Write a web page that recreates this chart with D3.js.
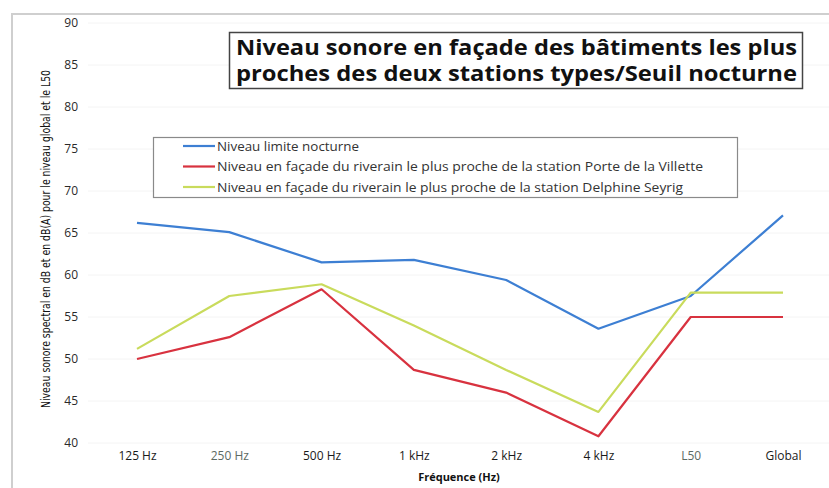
<!DOCTYPE html>
<html>
<head>
<meta charset="utf-8">
<script src="https://cdn.jsdelivr.net/npm/d3@7"></script>
<style>
  html, body { margin: 0; padding: 0; background: #fff; }
  svg { display: block; }
</style>
</head>
<body>
<svg id="chart" width="829" height="488"></svg>
<script>
// Frequency bands plus the L50 and global levels
const categories = ["125 Hz", "250 Hz", "500 Hz", "1 kHz", "2 kHz", "4 kHz", "L50", "Global"];

// Night-time limit level
const limiteNocturne = [66.2, 65.1, 61.5, 61.8, 59.4, 53.6, 57.5, 67.1];
// Facade level of the nearest resident, Porte de la Villette station
const porteVillette = [50.0, 52.6, 58.3, 48.7, 46.0, 40.8, 55.0, 55.0];
// Facade level of the nearest resident, Delphine Seyrig station
const delphineSeyrig = [51.2, 57.5, 58.9, 54.0, 48.7, 43.7, 57.9, 57.9];

const yTicks = [40, 45, 50, 55, 60, 65, 70, 75, 80, 85, 90];

const seriesNames = [
  "Niveau limite nocturne",
  "Niveau en façade du riverain le plus proche de la station Porte de la Villette",
  "Niveau en façade du riverain le plus proche de la station Delphine Seyrig"
];
const seriesColors = ["#3d7fd3", "#d8323f", "#c9db5c"];
const seriesValues = [limiteNocturne, porteVillette, delphineSeyrig];

const titleLines = [
  "Niveau sonore en façade des bâtiments les plus",
  "proches des deux stations types/Seuil nocturne"
];
const yTitle = "Niveau sonore spectral en dB et en dB(A) pour le niveau global et le L50";
const xTitle = "Fréquence (Hz)";

const svg = d3.select("#chart");
const font = "'Open Sans', 'DejaVu Sans', sans-serif";

// Outer chart frame (top and left edges)
svg.append("path")
  .attr("d", "M12,488 L12,14 L829,14")
  .attr("fill", "none")
  .attr("stroke", "#cfcfcf")
  .attr("stroke-width", 2);

const x = d3.scalePoint().domain(categories).range([137, 783]);
const y = d3.scaleLinear().domain([40, 90]).range([443, 23]);

// Faint horizontal gridlines
svg.append("g")
  .selectAll("line")
  .data(yTicks)
  .join("line")
  .attr("x1", 88).attr("x2", 829)
  .attr("y1", d => y(d)).attr("y2", d => y(d))
  .attr("stroke", "#f4f4f4")
  .attr("stroke-width", 1);

// Y axis (labels only)
const yAxis = svg.append("g")
  .attr("transform", "translate(78,0)")
  .call(d3.axisLeft(y).tickValues(yTicks).tickSize(0).tickPadding(0));
yAxis.select(".domain").remove();
yAxis.selectAll("text")
  .attr("font-family", font)
  .attr("font-size", 12)
  .attr("fill", "#2a2a2a");

// X axis (labels only)
const xAxis = svg.append("g")
  .attr("transform", "translate(0,451)")
  .call(d3.axisBottom(x).tickSize(0).tickPadding(0));
xAxis.select(".domain").remove();
xAxis.selectAll("text")
  .attr("font-family", font)
  .attr("font-size", 12)
  .attr("fill", d => (d === "250 Hz" || d === "L50") ? "#5d6a63" : "#1a1a1a");

// Series lines
const line = d3.line()
  .x((d, i) => x(categories[i]))
  .y(d => y(d));

svg.append("g")
  .selectAll("path")
  .data(seriesValues)
  .join("path")
  .attr("d", d => line(d))
  .attr("fill", "none")
  .attr("stroke", (d, i) => seriesColors[i])
  .attr("stroke-width", 2.2)
  .attr("stroke-linejoin", "round");

// Axis titles
svg.append("text")
  .attr("transform", "translate(50,239) rotate(-90)")
  .attr("text-anchor", "middle")
  .attr("font-family", "'Liberation Sans Narrow', 'DejaVu Sans Condensed', sans-serif")
  .attr("font-size", 12.5)
  .attr("textLength", 338)
  .attr("lengthAdjust", "spacingAndGlyphs")
  .attr("fill", "#111")
  .text(yTitle);

svg.append("text")
  .attr("x", 459).attr("y", 481)
  .attr("text-anchor", "middle")
  .attr("font-family", font)
  .attr("font-size", 11)
  .attr("font-weight", "bold")
  .attr("fill", "#111")
  .text(xTitle);

// Title box
svg.append("rect")
  .attr("x", 229.5).attr("y", 32.5)
  .attr("width", 573).attr("height", 56)
  .attr("fill", "#fff")
  .attr("stroke", "#444")
  .attr("stroke-width", 1.5);

svg.append("g")
  .selectAll("text")
  .data(titleLines)
  .join("text")
  .attr("x", 236)
  .attr("y", (d, i) => 55 + i * 26)
  .attr("font-family", font)
  .attr("font-size", 20.5)
  .attr("font-weight", "bold")
  .attr("fill", "#111")
  .attr("textLength", 561)
  .attr("lengthAdjust", "spacingAndGlyphs")
  .text(d => d);

// Legend
const legend = svg.append("g");
legend.append("rect")
  .attr("x", 153.5).attr("y", 137.5)
  .attr("width", 584).attr("height", 60)
  .attr("fill", "#fff")
  .attr("stroke", "#8a8a8a")
  .attr("stroke-width", 1.2);

const legendLengths = [142, 486, 466];
const items = legend.selectAll("g.item")
  .data(seriesNames)
  .join("g")
  .attr("class", "item")
  .attr("transform", (d, i) => `translate(0,${146 + i * 20.5})`);

items.append("line")
  .attr("x1", 183).attr("x2", 215)
  .attr("y1", 0).attr("y2", 0)
  .attr("stroke", (d, i) => seriesColors[i])
  .attr("stroke-width", 2.2);

items.append("text")
  .attr("x", 217).attr("y", 4.5)
  .attr("font-family", font)
  .attr("font-size", 12.5)
  .attr("fill", "#333")
  .attr("textLength", (d, i) => legendLengths[i])
  .attr("lengthAdjust", "spacingAndGlyphs")
  .text(d => d);
</script>
</body>
</html>
